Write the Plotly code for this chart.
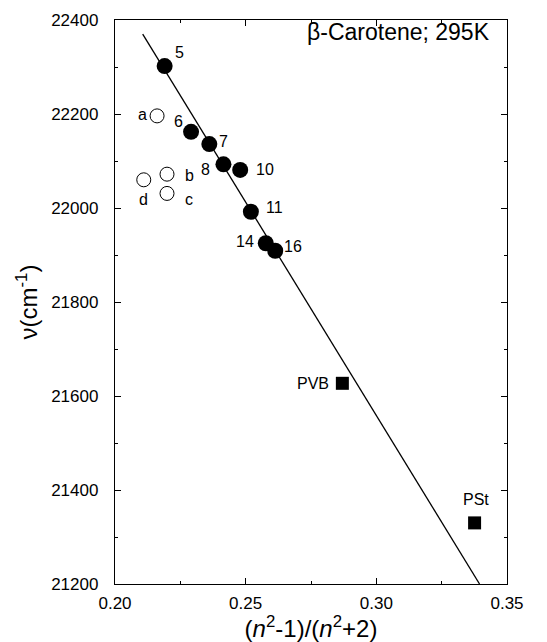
import plotly.graph_objects as go

# Filled circles (solvents)
solv_labels = ["5", "6", "7", "8", "10", "11", "14", "16"]
solv_x = [0.2190, 0.2291, 0.2361, 0.2415, 0.2479, 0.2520, 0.2577, 0.2613]
solv_y = [22302, 22162, 22136, 22093, 22081, 21992, 21925, 21909]

# Open circles
open_labels = ["a", "b", "c", "d"]
open_x = [0.2161, 0.2199, 0.2199, 0.2110]
open_y = [22196, 22072, 22031, 22060]

# Squares (polymers)
poly_labels = ["PVB", "PSt"]
poly_x = [0.2870, 0.3376]
poly_y = [21627, 21330]

# Fit line
line_x = [0.2106, 0.3395]
line_y = [22370, 21200]

FONT = "Liberation Sans, Arial, Helvetica, sans-serif"

fig = go.Figure()
fig.add_trace(go.Scatter(x=line_x, y=line_y, mode="lines",
                         line=dict(color="black", width=1.3), showlegend=False, hoverinfo="skip"))
fig.add_trace(go.Scatter(x=open_x, y=open_y, mode="markers",
                         marker=dict(symbol="circle-open", size=14, color="black", line=dict(width=1)),
                         showlegend=False))
fig.add_trace(go.Scatter(x=solv_x, y=solv_y, mode="markers",
                         marker=dict(symbol="circle", size=16, color="black"),
                         showlegend=False))
fig.add_trace(go.Scatter(x=poly_x, y=poly_y, mode="markers",
                         marker=dict(symbol="square", size=13, color="black"),
                         showlegend=False))

# label offsets (pixels): style only
solv_off = {"5": (15, 14), "6": (-13, 10), "7": (14, 3), "8": (-18, -5),
            "10": (25, 0), "11": (24, 4), "14": (-21, 2), "16": (18, 4)}
open_off = {"a": (-15, 1), "b": (22, -1), "c": (22, -6), "d": (0, -20)}
poly_off = {"PVB": (-29, 0), "PSt": (1, 23)}

for lab, x, y in zip(solv_labels, solv_x, solv_y):
    dx, dy = solv_off[lab]
    fig.add_annotation(x=x, y=y, text=lab, showarrow=False, xshift=dx, yshift=dy,
                       font=dict(size=16, color="black", family=FONT))
for lab, x, y in zip(open_labels, open_x, open_y):
    dx, dy = open_off[lab]
    fig.add_annotation(x=x, y=y, text=lab, showarrow=False, xshift=dx, yshift=dy,
                       font=dict(size=16, color="black", family=FONT))
for lab, x, y in zip(poly_labels, poly_x, poly_y):
    dx, dy = poly_off[lab]
    fig.add_annotation(x=x, y=y, text=lab, showarrow=False, xshift=dx, yshift=dy,
                       font=dict(size=16, color="black", family=FONT))

fig.add_annotation(xref="paper", yref="paper", x=0.963, y=0.979, xanchor="right", yanchor="middle",
                   text="β-Carotene; 295K", showarrow=False,
                   font=dict(size=23, color="black", family=FONT))

axis_common = dict(showline=True, linecolor="black", linewidth=1.3, mirror="ticks",
                   ticks="inside", ticklen=6, tickwidth=1, tickcolor="black",
                   showgrid=False, zeroline=False,
                   tickfont=dict(size=17, color="black", family=FONT))

fig.update_xaxes(range=[0.20, 0.35], tick0=0.20, dtick=0.05, tickformat=".2f",
                 minor=dict(dtick=0.025, ticks="inside", ticklen=3, tickcolor="black"),
                 ticklabelstandoff=3,
                 title=dict(text="(<i>n</i><sup>2</sup>-1)/(<i>n</i><sup>2</sup>+2)",
                            font=dict(size=24, color="black", family=FONT), standoff=0),
                 **axis_common)
fig.update_yaxes(range=[21200, 22400], tick0=21200, dtick=200, tickformat="d",
                 minor=dict(dtick=100, ticks="inside", ticklen=3, tickcolor="black"),
                 ticklabelstandoff=12,
                 title=dict(text="ν(cm<sup>-1</sup>)",
                            font=dict(size=24, color="black", family=FONT), standoff=6),
                 **axis_common)

fig.update_layout(width=547, height=642, margin=dict(l=114.5, r=39.5, t=20, b=58),
                  plot_bgcolor="white", paper_bgcolor="white",
                  font=dict(family=FONT, color="black"))

fig.write_html("out.html")
